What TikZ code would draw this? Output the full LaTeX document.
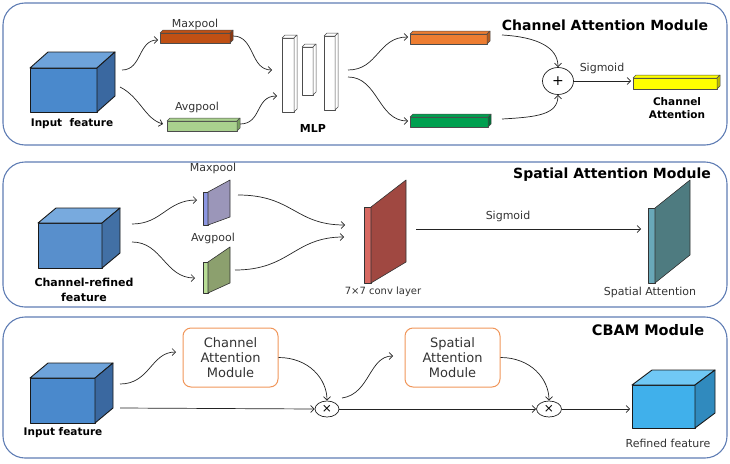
\documentclass[tikz,border=0pt]{standalone}
\usepackage{fontspec}
\setmainfont{DejaVu Sans}
\usetikzlibrary{arrows.meta,shapes.geometric}
\definecolor{panelc}{RGB}{95,125,180}
\definecolor{cubeF}{RGB}{74,137,204}
\definecolor{cubeT}{RGB}{110,163,218}
\definecolor{cubeS}{RGB}{58,104,160}
\definecolor{cubeBF}{RGB}{88,143,204}
\definecolor{cubeBT}{RGB}{120,170,222}
\definecolor{cubeBS}{RGB}{66,112,165}
\definecolor{refF}{RGB}{64,176,235}
\definecolor{refT}{RGB}{112,200,245}
\definecolor{refS}{RGB}{48,138,190}
\definecolor{maxbar}{RGB}{192,80,20}
\definecolor{maxbarD}{RGB}{140,55,15}
\definecolor{avgbar}{RGB}{169,209,142}
\definecolor{avgbarD}{RGB}{120,160,95}
\definecolor{orbar}{RGB}{237,125,49}
\definecolor{orbarD}{RGB}{180,90,30}
\definecolor{grbar}{RGB}{0,160,80}
\definecolor{grbarD}{RGB}{0,110,55}
\definecolor{yebar}{RGB}{255,255,0}
\definecolor{yebarD}{RGB}{190,190,0}
\definecolor{pmaxF}{RGB}{155,150,185}
\definecolor{pmaxE}{RGB}{140,150,225}
\definecolor{pavgF}{RGB}{140,160,110}
\definecolor{pavgE}{RGB}{185,222,150}
\definecolor{pconvF}{RGB}{160,72,65}
\definecolor{pconvE}{RGB}{215,105,98}
\definecolor{pspF}{RGB}{78,123,128}
\definecolor{pspE}{RGB}{105,168,185}
\definecolor{boxc}{RGB}{240,150,90}
\definecolor{linec}{RGB}{35,35,35}
\newcommand{\cbcube}[9]{%
 \filldraw[cubeline,fill=#7] (#1,#2) rectangle (#3,#4);
 \filldraw[cubeline,fill=#8] (#1,#2) -- ({#1+#5},{#2-#6}) -- ({#3+#5},{#2-#6}) -- (#3,#2) -- cycle;
 \filldraw[cubeline,fill=#9] (#3,#2) -- ({#3+#5},{#2-#6}) -- ({#3+#5},{#4-#6}) -- (#3,#4) -- cycle;}
\newcommand{\cbbar}[7]{%
 \filldraw[barline,fill=#6] (#1,#2) rectangle (#3,#4);
 \filldraw[barline,fill=#6] (#1,#2) -- ({#1+#5},{#2-#5}) -- ({#3+#5},{#2-#5}) -- (#3,#2) -- cycle;
 \filldraw[barline,fill=#7] (#3,#2) -- ({#3+#5},{#2-#5}) -- ({#3+#5},{#4-#5}) -- (#3,#4) -- cycle;}
\newcommand{\cbplate}[9]{%
 \filldraw[plateline,fill=#9] (#1,#4) rectangle ({#1+#2},#7);
 \filldraw[plateline,fill=#8] ({#1+#2},#4) -- (#3,#5) -- (#3,#6) -- ({#1+#2},#7) -- cycle;}
\tikzset{
 panel/.style={draw=panelc,line width=1.1pt,rounded corners=22pt},
 cubeline/.style={draw=black!90,line width=0.9pt,line join=round},
 barline/.style={draw=black!70,line width=0.5pt,line join=round},
 plateline/.style={draw=black!80,line width=0.6pt,line join=round},
 conn/.style={draw=linec,line width=0.7pt,-{Straight Barb[length=3.5pt,width=7pt]}},
 lbl/.style={inner sep=0pt,font=\fontsize{11}{13}\selectfont,text=black!80},
 blbl/.style={inner sep=0pt,font=\bfseries\fontsize{10.5}{13}\selectfont,align=center},
 title/.style={inner sep=0pt,font=\bfseries\fontsize{14}{16}\selectfont},
 opnode/.style={draw=linec,line width=0.7pt,ellipse,inner sep=0pt,fill=white,font=\fontsize{14}{14}\selectfont},
 modbox/.style={draw=boxc,line width=1pt,rounded corners=8pt,minimum width=95pt,minimum height=59pt,align=center,font=\fontsize{13}{15}\selectfont,text=black!80},
}
\begin{document}
\begin{tikzpicture}[x=1pt,y=-1pt]
\useasboundingbox (0,0) rectangle (730,463);
% ---------- panel 1 ----------
\draw[panel] (3,3) rectangle (727,145);
\node[title] (t1) at (605,25) {Channel Attention Module};
\cbcube{30}{68}{97}{112}{18}{16}{cubeF}{cubeT}{cubeS}
\node[blbl] (inA) at (72,124) {Input\ \ feature};
\cbbar{160}{33}{230}{43}{3}{maxbar}{maxbarD}
\node[lbl] (lmax1) at (195,24) {Maxpool};
\cbbar{167}{121}{237}{131}{3}{avgbar}{avgbarD}
\node[lbl] (lavg1) at (197,107) {Avgpool};
\foreach \a/\b/\c/\d in {282/38/294/112,302/47/313/95,324/36/335/110}{
 \filldraw[barline,fill=white] (\a,\b) rectangle (\c,\d);
 \filldraw[barline,fill=white] (\a,\b) -- ({\a+3},{\b-3}) -- ({\c+3},{\b-3}) -- (\c,\b) -- cycle;
 \filldraw[barline,fill=white] (\c,\b) -- ({\c+3},{\b-3}) -- ({\c+3},{\d-3}) -- (\c,\d) -- cycle;}
\node[blbl,font=\bfseries\fontsize{11}{13}\selectfont] (mlp) at (313,128) {MLP};
\cbbar{410}{34}{487}{44}{3}{orbar}{orbarD}
\cbbar{410}{117}{488}{127}{3}{grbar}{grbarD}
\node[opnode,minimum width=31pt,minimum height=27pt] (plus) at (558,81) {+};
\node[lbl] (sig1) at (602,68) {Sigmoid};
\cbbar{633}{78}{717}{89}{3}{yebar}{yebarD}
\node[blbl] (ca) at (677,108) {Channel\\Attention};
\coordinate (a1) at (122,70); \coordinate (a2) at (158,40);
\coordinate (a3) at (120,87); \coordinate (a4) at (163,124);
\coordinate (a5) at (233,36); \coordinate (a6) at (272,70);
\coordinate (a7) at (240,124); \coordinate (a8) at (277,96);
\coordinate (a9) at (348,70); \coordinate (a10) at (408,37);
\coordinate (a11) at (348,77); \coordinate (a12) at (408,121);
\coordinate (a13) at (502,35); \coordinate (a14) at (502,119);
\coordinate (a15) at (631,81);
\draw[conn] (a1) .. controls +(20,0) and +(-20,0) .. (a2);
\draw[conn] (a3) .. controls +(20,10) and +(-18,-5) .. (a4);
\draw[conn] (a5) .. controls +(22,0) and +(-22,0) .. (a6);
\draw[conn] (a7) .. controls +(22,0) and +(-22,0) .. (a8);
\draw[conn] (a9) .. controls +(30,0) and +(-30,0) .. (a10);
\draw[conn] (a11) .. controls +(30,0) and +(-30,0) .. (a12);
\draw[conn] (a13) .. controls +(35,2) and +(0,-20) .. (plus.north);
\draw[conn] (a14) .. controls +(35,-2) and +(0,20) .. (plus.south);
\draw[conn] (plus.east) -- (a15);
% ---------- panel 2 ----------
\draw[panel] (3,162) rectangle (727,307);
\node[title] (t2) at (612,175) {Spatial Attention Module};
\cbcube{38}{223}{102}{268}{18}{15}{cubeBF}{cubeBT}{cubeBS}
\node[blbl,font=\bfseries\fontsize{11}{15}\selectfont] (crf) at (84,290) {Channel-refined\\feature};
\cbplate{203}{5}{230}{192}{180}{217}{225}{pmaxF}{pmaxE}
\node[lbl] (lmax2) at (213,168) {Maxpool};
\cbplate{203}{5}{230}{262}{247}{283}{293}{pavgF}{pavgE}
\node[lbl] (lavg2) at (213,238) {Avgpool};
\cbplate{364}{7}{406}{207}{180}{262}{283}{pconvF}{pconvE}
\node[lbl,font=\fontsize{10}{12}\selectfont] (conv) at (383,292) {7×7 conv layer};
\node[lbl] (sig2) at (508,216) {Sigmoid};
\cbplate{648}{7}{690}{208}{180}{255}{283}{pspF}{pspE}
\node[lbl] (sa) at (650,292) {Spatial Attention};
\coordinate (b1) at (132,224); \coordinate (b2) at (197,200);
\coordinate (b3) at (132,242); \coordinate (b4) at (195,278);
\coordinate (b5) at (238,195); \coordinate (b6) at (345,225);
\coordinate (b7) at (235,270); \coordinate (b8) at (344,237);
\coordinate (b9) at (416,229); \coordinate (b10) at (641,229);
\draw[conn] (b1) .. controls +(30,0) and +(-30,0) .. (b2);
\draw[conn] (b3) .. controls +(30,0) and +(-30,0) .. (b4);
\draw[conn] (b5) .. controls +(55,0) and +(-50,0) .. (b6);
\draw[conn] (b7) .. controls +(55,0) and +(-50,0) .. (b8);
\draw[conn] (b9) -- (b10);
% ---------- panel 3 ----------
\draw[panel] (3,317) rectangle (727,458);
\node[title,font=\bfseries\fontsize{14.5}{16}\selectfont] (t3) at (648,330) {CBAM Module};
\cbcube{30}{378}{95}{423}{18}{15}{cubeF}{cubeT}{cubeS}
\node[blbl,font=\bfseries\fontsize{10.5}{13}\selectfont] (inC) at (63,433) {Input feature};
\node[modbox] (cam) at (230.5,357.5) {Channel\\Attention\\Module};
\node[modbox] (sam) at (452.5,357.5) {Spatial\\Attention\\Module};
\node[opnode,minimum width=24pt,minimum height=16pt,font=\fontsize{12}{12}\selectfont] (x1) at (327,409) {×};
\node[opnode,minimum width=25pt,minimum height=16pt,font=\fontsize{12}{12}\selectfont] (x2) at (549,409) {×};
\cbcube{632}{385}{695}{428}{20}{15}{refF}{refT}{refS}
\node[lbl] (rf) at (668,443) {Refined feature};
\coordinate (c1) at (120,384); \coordinate (c2) at (176,352);
\coordinate (c3) at (120,408); \coordinate (c4) at (342,398);
\coordinate (c5) at (393,356); \coordinate (c6) at (630,409);
\draw[conn] (c1) .. controls +(30,0) and +(-25,0) .. (c2);
\draw[conn] (c3) -- (x1.west);
\draw[conn] (cam.east) .. controls +(30,0) and +(0,-22) .. (x1.north);
\draw[conn] (c4) .. controls +(28,-4) and +(-24,0) .. (c5);
\draw[conn] (x1.east) -- (x2.west);
\draw[conn] (sam.east) .. controls +(30,0) and +(0,-22) .. (x2.north);
\draw[conn] (x2.east) -- (c6);
\end{tikzpicture}
\end{document}
